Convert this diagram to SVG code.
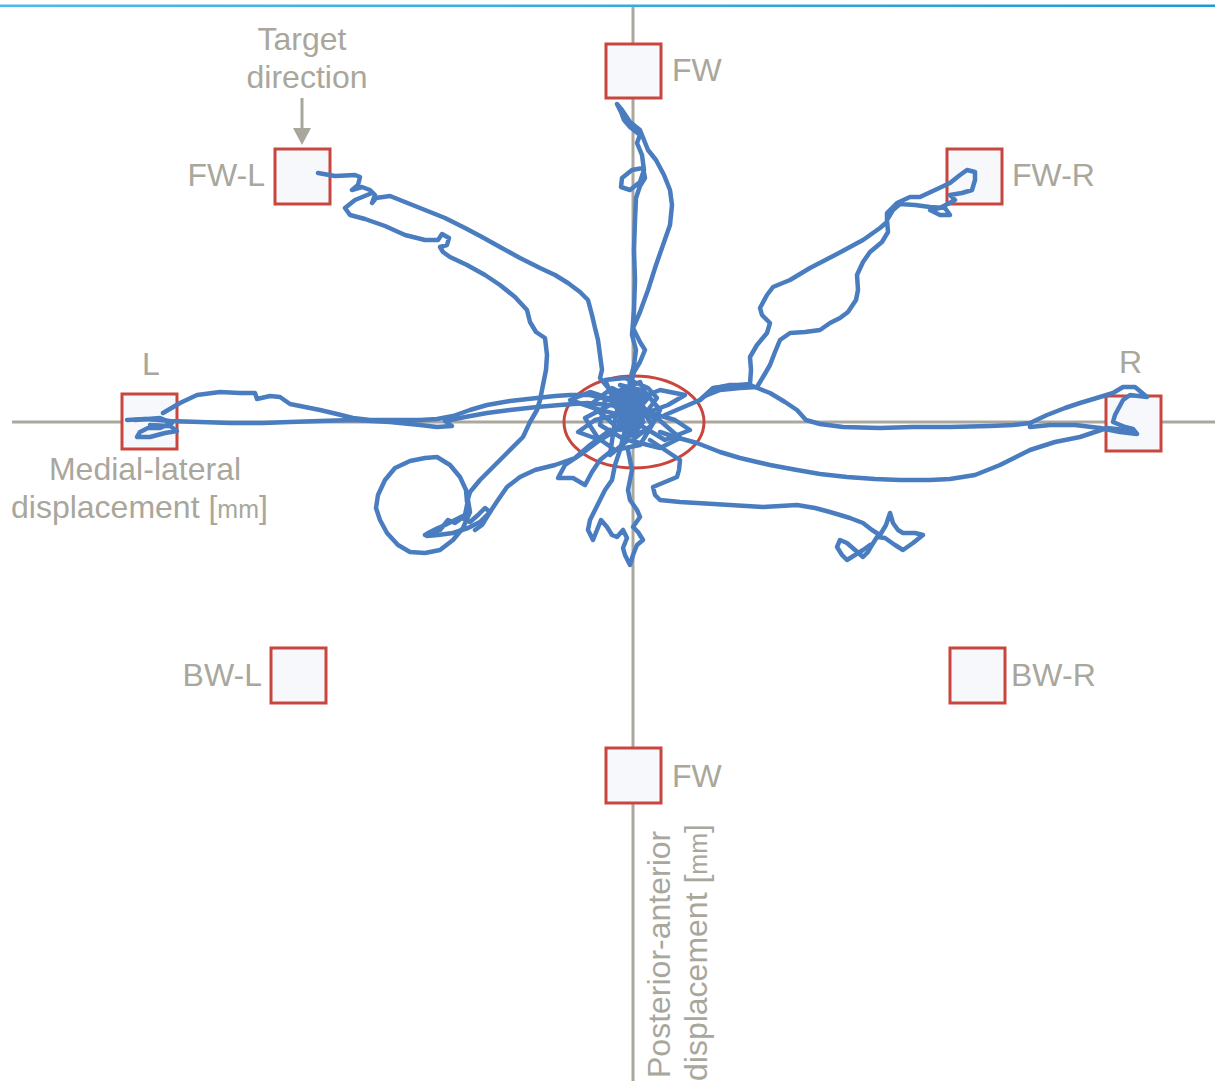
<svg xmlns="http://www.w3.org/2000/svg" width="1215" height="1081" viewBox="0 0 1215 1081">
<defs>
<linearGradient id="topline" x1="0" y1="0" x2="1" y2="0">
<stop offset="0" stop-color="#4dbbe9"/>
<stop offset="1" stop-color="#1f9ad7"/>
</linearGradient>
<style>
.axis{stroke:#aaa89d;stroke-width:3;fill:none}
.box{fill:#f6f8fb;stroke:#c8463e;stroke-width:3}
.lbl{font-family:"Liberation Sans",Arial,sans-serif;font-size:32px;fill:#a9a79c}
.trk{fill:none;stroke:#4a7dbf;stroke-width:4.5;stroke-linecap:round;stroke-linejoin:round}
</style>
</defs>
<rect width="1215" height="1081" fill="#ffffff"/>
<rect x="0" y="4.5" width="1215" height="2.5" fill="url(#topline)"/>
<g id="axes">
<line class="axis" x1="633" y1="7" x2="633" y2="1081"/>
<line class="axis" x1="12" y1="422" x2="1215" y2="422"/>
</g>
<ellipse id="origin-zone" cx="634" cy="422" rx="70" ry="46" fill="none" stroke="#c8463e" stroke-width="3"/>
<g id="node-fw-top"><rect class="box" x="606" y="44" width="55" height="54"/><text class="lbl" x="672" y="81">FW</text></g>
<g id="node-fw-l"><rect class="box" x="275" y="149" width="55" height="55"/><text class="lbl" x="265" y="186" text-anchor="end">FW-L</text></g>
<g id="node-fw-r"><rect class="box" x="947" y="149" width="55" height="55"/><text class="lbl" x="1012" y="186">FW-R</text></g>
<g id="node-l"><rect class="box" x="122" y="394" width="55" height="55"/><text class="lbl" x="142" y="375">L</text></g>
<g id="node-r"><rect class="box" x="1106" y="396" width="55" height="55"/><text class="lbl" x="1119" y="373">R</text></g>
<g id="node-bw-l"><rect class="box" x="271" y="648" width="55" height="55"/><text class="lbl" x="262" y="686" text-anchor="end">BW-L</text></g>
<g id="node-bw-r"><rect class="box" x="950" y="648" width="55" height="55"/><text class="lbl" x="1011" y="686">BW-R</text></g>
<g id="node-fw-bottom"><rect class="box" x="606" y="748" width="55" height="55"/><text class="lbl" x="672" y="787">FW</text></g>
<g id="target-label">
<text class="lbl" x="302" y="50" text-anchor="middle">Target</text>
<text class="lbl" x="307" y="88" text-anchor="middle">direction</text>
</g>
<g id="connectors">
<line x1="302" y1="98" x2="302" y2="130" stroke="#a9a79c" stroke-width="3"/>
<polygon points="293,128 311,128 302,145" fill="#a9a79c"/>
</g>
<g id="axis-labels">
<text class="lbl" x="145" y="480" text-anchor="middle">Medial-lateral</text>
<text class="lbl" x="11" y="518">displacement [<tspan font-size="25">mm</tspan>]</text>
<text class="lbl" transform="translate(670,1078) rotate(-90)">Posterior-anterior</text>
<text class="lbl" transform="translate(707,1081) rotate(-90)">displacement [<tspan font-size="25">mm</tspan>]</text>
</g>
<g id="trajectories">
<path class="trk" d="M 628,398 L 630,380 L 634,365 L 636,350 L 632,335 L 634,310 L 635,280 L 634,250 L 635,220 L 636,198 L 640,186 L 645,178 L 643,168 L 632,170 L 622,178 L 621,187 L 630,190 L 640,182 L 644,170 L 642,155 L 637,143 L 640,135 L 630,127 L 624,120 L 621,112 L 617,104 L 622,110 L 630,122 L 640,130 L 644,140 L 648,150 L 656,160 L 664,175 L 670,190 L 672,205 L 670,225 L 663,245 L 656,265 L 648,290 L 640,312 L 633,328 L 640,342 L 645,350 L 640,362 L 634,372 L 630,388"/>
<path class="trk" d="M 318,173 L 335,176 L 355,175 L 360,177 L 358,185 L 352,190 L 362,187 L 370,190 L 375,195 L 372,203 L 376,198 L 390,196 L 405,202 L 425,210 L 445,218 L 465,228 L 482,237 L 500,247 L 520,258 L 540,268 L 555,275 L 568,283 L 580,292 L 588,300 L 592,315 L 595,328 L 598,340 L 600,355 L 602,370 L 600,378 L 610,390 L 620,400"/>
<path class="trk" d="M 372,193 L 355,200 L 345,208 L 350,215 L 365,219 L 385,226 L 405,235 L 425,240 L 438,240 L 442,234 L 449,238 L 447,245 L 440,247 L 443,252 L 450,257 L 467,265 L 485,275 L 500,285 L 515,297 L 527,310 L 530,322 L 536,332 L 545,338 L 547,355 L 546,370 L 543,385 L 540,400 L 537,410 L 530,422 L 523,437 L 508,452 L 493,467 L 480,480 L 470,492 L 467,502 L 466,490 L 460,477 L 450,465 L 437,457 L 425,458 L 410,461 L 395,468 L 385,480 L 378,495 L 376,508 L 380,520 L 387,533 L 398,545 L 410,552 L 425,553 L 440,550 L 453,540 L 463,528 L 470,512 L 468,500 L 465,515 L 455,520 L 445,525 L 438,528 L 430,532 L 425,535 L 440,530 L 448,520 L 455,523 L 462,518 L 470,522 L 478,515 L 485,508 L 490,512 L 482,525 L 475,530"/>
<path class="trk" d="M 610,430 L 590,445 L 575,458 L 555,465 L 535,470 L 520,477 L 507,487 L 498,500 L 490,512 L 480,522 L 468,528 L 453,533 L 438,535 L 427,536"/>
<path class="trk" d="M 163,413 L 180,403 L 197,395 L 220,392 L 240,393 L 255,393 L 257,399 L 270,396 L 280,397 L 290,404 L 305,407 L 320,410 L 337,414 L 353,418 L 370,420 L 387,420 L 405,420 L 420,420 L 437,419 L 453,416 L 470,410 L 487,405 L 510,401 L 537,398 L 555,396 L 570,395 L 590,395 L 610,400"/>
<path class="trk" d="M 127,420 L 145,419 L 170,421 L 200,422 L 230,423 L 263,423 L 290,422 L 320,421 L 353,420 L 390,422 L 420,425 L 437,427 L 452,426 L 445,421 L 465,417 L 487,413 L 510,410 L 537,407 L 560,405 L 587,403 L 610,405"/>
<path class="trk" d="M 135,420 L 160,418 L 172,423 L 160,428 L 148,428 L 140,432 L 137,437 L 150,437 L 165,433 L 177,431 L 170,426 L 150,425"/>
<path class="trk" d="M 700,400 L 713,388 L 730,386 L 750,384 L 751,370 L 750,357 L 757,345 L 767,333 L 770,323 L 762,315 L 760,308 L 767,295 L 773,287 L 790,280 L 810,268 L 837,254 L 863,240 L 880,228 L 887,222 L 887,213 L 897,203 L 910,197 L 920,197 L 935,190 L 950,183 L 960,175 L 967,170 L 975,172 L 975,180 L 972,190 L 962,193 L 950,195 L 955,200 L 940,208 L 930,210 L 940,215 L 950,215 L 945,208 L 930,207 L 915,205 L 900,204 L 893,210 L 887,220 L 888,232 L 882,242 L 870,252 L 863,262 L 857,275 L 858,290 L 856,300 L 848,312 L 840,318 L 830,323 L 820,330 L 805,332 L 790,333 L 780,340 L 775,352 L 770,365 L 763,377 L 757,387 L 740,388 L 720,390 L 705,396"/>
<path class="trk" d="M 665,415 L 700,400 L 715,388 L 730,385 L 750,385 L 770,393 L 785,402 L 797,410 L 806,420 L 820,424 L 843,427 L 880,428 L 913,427 L 950,427 L 990,426 L 1013,425 L 1030,423 L 1047,415 L 1065,408 L 1080,403 L 1100,397 L 1113,393 L 1123,387 L 1135,387 L 1147,397 L 1130,395 L 1123,400 L 1115,415 L 1113,422 L 1125,427 L 1133,429 L 1137,434 L 1120,432 L 1100,428 L 1075,425 L 1050,425 L 1030,427"/>
<path class="trk" d="M 660,432 L 675,437 L 697,443 L 720,452 L 740,458 L 770,465 L 797,470 L 820,474 L 847,477 L 875,479 L 900,480 L 930,480 L 950,479 L 975,475 L 1000,465 L 1030,450 L 1055,442 L 1080,437 L 1107,428 L 1125,430 L 1135,432"/>
<path class="trk" d="M 650,440 L 665,450 L 680,460 L 679,470 L 677,477 L 665,482 L 653,487 L 655,495 L 660,500 L 680,502 L 697,503 L 730,505 L 763,507 L 797,505 L 815,508 L 830,512 L 850,518 L 863,523 L 872,530 L 880,535 L 886,525 L 890,513 L 893,523 L 898,530 L 903,533 L 915,533 L 923,535 L 913,543 L 903,550 L 895,545 L 885,538 L 877,537 L 872,545 L 868,552 L 863,557 L 855,550 L 847,543 L 840,540 L 837,547 L 842,555 L 847,560 L 855,555 L 863,550 L 870,545"/>
<path class="trk" d="M 625,430 L 620,450 L 615,465 L 612,480 L 605,490 L 600,500 L 595,510 L 590,520 L 588,530 L 593,540 L 597,530 L 601,520 L 607,527 L 612,535 L 617,537 L 623,530 L 627,538 L 623,548 L 625,555 L 630,565 L 633,555 L 637,545 L 643,540 L 638,532 L 633,527 L 640,517 L 637,510 L 630,500 L 628,490 L 632,470 L 628,450"/>
<path class="trk" d="M 600,440 L 580,455 L 565,465 L 558,478 L 573,478 L 585,485 L 592,472 L 600,460 L 610,452"/>
<path class="trk" d="M 620,385 L 645,392 L 660,410 L 648,430 L 622,438 L 600,425 L 605,400 L 630,392 L 655,420 L 640,445 L 615,450 L 598,438 L 585,418 L 610,405 L 640,410 L 675,420 L 690,430 L 665,440 L 640,425 L 618,415 L 595,420 L 578,432 L 600,440 L 625,425 L 648,398 L 640,382 L 622,390 L 615,420 L 610,455 L 628,440 L 660,448 L 680,438 L 650,412 L 620,402 L 590,392 L 570,400 L 600,410 L 632,418 L 668,405 L 685,395 L 660,390 L 630,402 L 612,396 L 605,380 L 625,378 L 648,388 L 657,398 L 642,418 L 620,430 L 603,415 L 590,405 L 612,388 L 636,400 L 652,425 L 635,438 L 617,410"/>
<path fill="#4a7dbf" stroke="#4a7dbf" stroke-width="3" stroke-linejoin="round" d="M 614,393 L 626,386 L 640,389 L 646,398 L 641,410 L 644,422 L 636,432 L 625,433 L 618,424 L 620,412 L 611,404 Z"/>
</g>
</svg>
